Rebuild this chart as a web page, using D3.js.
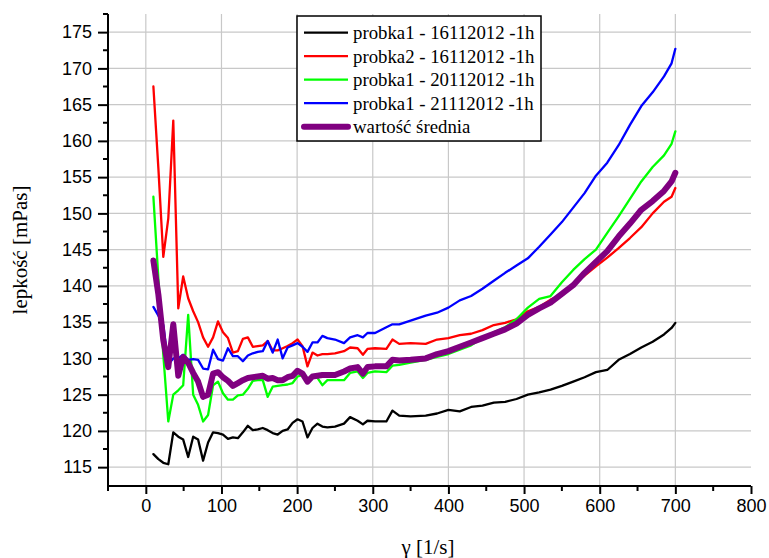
<!DOCTYPE html>
<html><head><meta charset="utf-8">
<script src="https://cdn.jsdelivr.net/npm/d3@7/dist/d3.min.js"></script>
<style>body{margin:0;background:#fff}svg{display:block}</style>
</head><body>
<svg id="chart" width="769" height="558"></svg>
<script>
const shearRate = [10,16.6,23.1,29.7,36.3,42.9,49.4,56,62.6,69.1,75.7,82.3,88.9,95.4,102,108.6,115.1,121.7,128.3,134.9,141.4,148,154.6,161.1,167.7,174.3,180.9,187.4,194,200.6,207.1,213.7,220.3,226.9,233.4,240,
  250,262,270,280,287,293,303,318,326,335,350,370,385,400,415,430,445,460,475,490,505,520,535,550,565,580,595,610,625,640,655,670,685,695,700];

const probka1_16112012 = [116.8,116.1,115.6,115.4,119.8,119.2,118.8,116.4,119.2,118.8,115.9,118.4,119.8,119.7,119.5,118.9,119.1,119.0,119.8,120.7,120.1,120.2,120.4,120.1,119.7,119.5,120.0,120.2,121.1,121.6,121.3,119.1,120.4,121.0,120.6,120.5,
  120.6,121.0,121.9,121.4,120.9,121.4,121.3,121.3,122.8,122.1,122.0,122.1,122.4,122.9,122.7,123.3,123.5,123.9,124.0,124.4,125.0,125.3,125.7,126.2,126.8,127.4,128.1,128.4,129.8,130.6,131.5,132.3,133.3,134.2,134.9];

const probka2_16112012 = [167.5,156.2,144.0,149.3,162.8,136.9,141.3,138.3,136.5,135.0,132.9,131.6,132.9,135.1,133.6,132.8,130.8,131.0,132.7,132.9,131.6,131.7,131.8,132.4,131.1,131.1,131.4,131.7,132.1,132.6,131.7,128.9,130.8,130.4,130.6,130.6,
  130.7,131.0,131.5,131.4,130.5,131.3,131.4,131.3,132.6,132.0,132.1,132.0,132.6,132.8,133.2,133.4,133.9,134.6,134.9,135.4,136.5,137.1,138.1,138.8,140.3,141.4,142.7,143.9,145.2,146.6,148.1,150.0,151.6,152.3,153.5];

const probka1_20112012 = [152.3,141.0,130.5,121.3,125.0,125.6,126.3,136.0,125.0,123.6,121.3,122.2,126.3,126.8,125.2,124.3,124.3,124.9,125.0,125.8,126.9,127.0,127.0,124.7,126.1,126.2,126.3,126.4,126.6,127.5,127.7,127.0,127.4,127.3,126.3,127.0,
  127.0,127.0,128.0,128.2,127.3,128.0,128.2,128.1,129.0,129.1,129.4,129.8,130.2,130.6,131.2,131.8,132.8,133.6,134.3,135.4,137.0,138.2,138.6,140.5,142.2,143.7,145.0,147.3,149.6,152.0,154.4,156.4,158.0,159.6,161.3];

const probka1_21112012 = [137.1,135.9,134.6,129.2,130.0,130.0,130.5,129.8,129.9,129.8,128.6,128.5,131.2,129.9,129.7,131.4,130.3,130.3,129.6,130.4,130.7,130.9,131.0,132.4,130.8,132.6,130.0,131.5,131.8,132.1,131.6,130.9,132.2,132.2,133.1,132.8,
  132.6,132.1,132.9,133.2,132.9,133.5,133.5,134.3,134.7,134.7,135.2,135.9,136.3,137.0,138.0,138.6,139.6,140.7,141.8,142.8,143.8,145.4,147.1,148.8,150.8,152.8,155.2,157.0,159.4,162.2,164.8,166.7,168.9,170.7,172.7];

const wartoscSrednia = [143.5,138.8,132.5,128.8,134.7,127.6,130.2,129.4,128.0,126.8,124.7,125.0,127.9,128.1,127.4,126.9,126.2,126.6,127.0,127.3,127.4,127.5,127.6,127.2,127.3,127.0,127.0,127.4,127.6,128.3,127.9,126.8,127.5,127.6,127.7,127.7,
  127.7,128.2,128.6,128.8,127.9,128.8,128.9,128.9,129.8,129.7,129.8,130.0,130.6,131.0,131.6,132.2,132.8,133.4,134.0,134.8,136.0,136.9,137.7,138.9,140.1,141.8,143.3,144.8,146.8,148.6,150.5,151.7,153.1,154.4,155.6];

const seriesNames = ["probka1 - 16112012 -1h","probka2 - 16112012 -1h","probka1 - 20112012 -1h","probka1 - 21112012 -1h","wartość średnia"];
const seriesColors = ["#000000","#ff0000","#00ff00","#0000ff","#800080"];
const seriesWidths = [2.3,2.3,2.3,2.3,6];
const seriesValues = [probka1_16112012, probka2_16112012, probka1_20112012, probka1_21112012, wartoscSrednia];

const xTicks = [0,100,200,300,400,500,600,700,800];
const yTicks = [115,120,125,130,135,140,145,150,155,160,165,170,175];
const xTitle = "γ [1/s]";
const yTitle = "lepkość [mPas]";

const svg = d3.select("#chart");
const L = 108, R = 751, T = 14, B = 486;
const x = d3.scaleLinear().domain([-50, 800]).range([L, R]);
const y = d3.scaleLinear().domain([112.4, 177.5]).range([B, T]);

// grid
const grid = svg.append("g").attr("stroke", "#c8c8c8").attr("stroke-width", 1.2);
grid.selectAll("line.v").data(xTicks.filter(d => d < 800)).join("line")
  .attr("x1", d => x(d)).attr("x2", d => x(d)).attr("y1", T).attr("y2", B);
grid.selectAll("line.h").data(yTicks).join("line")
  .attr("x1", L).attr("x2", R).attr("y1", d => y(d)).attr("y2", d => y(d));

// lines
const line = d3.line().x((d, i) => x(shearRate[i])).y(d => y(d));
seriesValues.forEach((vals, k) => {
  svg.append("path").datum(vals)
    .attr("fill", "none").attr("stroke", seriesColors[k])
    .attr("stroke-width", seriesWidths[k]).attr("stroke-linejoin", "round").attr("stroke-linecap", "round")
    .attr("d", line);
});

// axes
const xMinor = d3.range(-50, 801, 50).filter(d => d % 100 !== 0);
const yMinor = d3.range(117.5, 178, 5);
const xAxis = svg.append("g").attr("transform", `translate(0,${B})`)
  .call(d3.axisBottom(x).tickValues(xTicks).tickSize(8).tickPadding(5).tickFormat(d3.format("d")));
xAxis.select(".domain").attr("stroke-width", 2).attr("d", `M${L},0H${R}`);
xAxis.selectAll(".tick line").attr("stroke-width", 2);
xAxis.selectAll(".tick text").attr("font-family", "Liberation Sans, Arial, sans-serif").attr("font-size", 18).attr("fill", "#000");
svg.append("g").selectAll("line").data(xMinor).join("line")
  .attr("x1", d => x(d)).attr("x2", d => x(d)).attr("y1", B).attr("y2", B + 5)
  .attr("stroke", "#000").attr("stroke-width", 2);

const yAxis = svg.append("g").attr("transform", `translate(${L},0)`)
  .call(d3.axisLeft(y).tickValues(yTicks).tickSize(10).tickPadding(6).tickFormat(d3.format("d")));
yAxis.select(".domain").attr("stroke-width", 2).attr("d", `M0,${T}V${B}`);
yAxis.selectAll(".tick line").attr("stroke-width", 2);
yAxis.selectAll(".tick text").attr("font-family", "Liberation Sans, Arial, sans-serif").attr("font-size", 18).attr("fill", "#000");
svg.append("g").selectAll("line").data(yMinor).join("line")
  .attr("x1", L - 5).attr("x2", L).attr("y1", d => y(d)).attr("y2", d => y(d))
  .attr("stroke", "#000").attr("stroke-width", 2);

// titles
svg.append("text").attr("x", 428).attr("y", 554).attr("text-anchor", "middle")
  .attr("font-family", "Liberation Serif, Times New Roman, serif").attr("font-size", 21).text(xTitle);
svg.append("text").attr("transform", "translate(27,250) rotate(-90)").attr("text-anchor", "middle")
  .attr("font-family", "Liberation Serif, Times New Roman, serif").attr("font-size", 21).text(yTitle);

// legend
const lg = svg.append("g");
lg.append("rect").attr("x", 297).attr("y", 16).attr("width", 244).attr("height", 125)
  .attr("fill", "#fff").attr("stroke", "#000").attr("stroke-width", 1.5);
seriesNames.forEach((name, k) => {
  const yy = 32.7 + k * 23.5;
  lg.append("line").attr("x1", 304).attr("x2", 348).attr("y1", yy).attr("y2", yy)
    .attr("stroke", seriesColors[k]).attr("stroke-width", k === 4 ? 6 : 2.3).attr("stroke-linecap", k === 4 ? "round" : "butt");
  lg.append("text").attr("x", 353).attr("y", yy).attr("dy", "0.35em")
    .attr("font-family", "Liberation Serif, Times New Roman, serif").attr("font-size", 18.8).text(name);
});
</script>
</body></html>
